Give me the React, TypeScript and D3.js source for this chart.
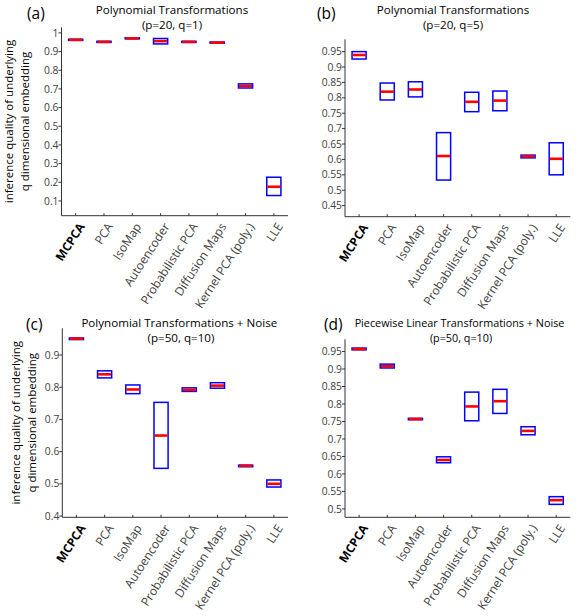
import React from 'react';
import * as d3 from 'd3';

// method names on the x axis
const categories = ['MCPCA', 'PCA', 'IsoMap', 'Autoencoder', 'Probabilistic PCA', 'Diffusion Maps', 'Kernel PCA (poly.)', 'LLE'];

// (a) Polynomial Transformations (p=20, q=1)
const aLow = [0.960, 0.949, 0.968, 0.941, 0.949, 0.945, 0.705, 0.129];
const aMed = [0.963, 0.952, 0.971, 0.956, 0.952, 0.948, 0.716, 0.176];
const aHigh = [0.966, 0.955, 0.974, 0.970, 0.955, 0.951, 0.727, 0.227];
const aTicks = [0.1, 0.2, 0.3, 0.4, 0.5, 0.6, 0.7, 0.8, 0.9, 1];

// (b) Polynomial Transformations (p=20, q=5)
const bLow = [0.926, 0.793, 0.803, 0.533, 0.755, 0.758, 0.605, 0.550];
const bMed = [0.939, 0.820, 0.827, 0.611, 0.787, 0.791, 0.610, 0.602];
const bHigh = [0.950, 0.848, 0.852, 0.687, 0.818, 0.822, 0.614, 0.654];
const bTicks = [0.45, 0.5, 0.55, 0.6, 0.65, 0.7, 0.75, 0.8, 0.85, 0.9, 0.95];

// (c) Polynomial Transformations + Noise (p=50, q=10)
const cLow = [0.948, 0.829, 0.780, 0.548, 0.787, 0.797, 0.553, 0.490];
const cMed = [0.951, 0.840, 0.793, 0.650, 0.792, 0.805, 0.556, 0.500];
const cHigh = [0.953, 0.851, 0.807, 0.753, 0.798, 0.814, 0.558, 0.512];
const cTicks = [0.4, 0.5, 0.6, 0.7, 0.8, 0.9];

// (d) Piecewise Linear Transformations + Noise (p=50, q=10)
const dLow = [0.955, 0.903, 0.755, 0.632, 0.752, 0.773, 0.712, 0.513];
const dMed = [0.957, 0.908, 0.757, 0.640, 0.793, 0.808, 0.723, 0.525];
const dHigh = [0.960, 0.914, 0.759, 0.649, 0.834, 0.842, 0.735, 0.535];
const dTicks = [0.5, 0.55, 0.6, 0.65, 0.7, 0.75, 0.8, 0.85, 0.9, 0.95];

const FONT = '"Open Sans", "Noto Sans", sans-serif';
const AXIS = '#333333';
const LABEL = '#404040';

const fmt = (v: number) => String(+v.toFixed(2));

type PanelProps = {
  left: number; top: number; right: number; bottom: number;
  domain: [number, number]; ticks: number[];
  lo: number[]; med: number[]; hi: number[];
  letter: string; letterX: number; letterY: number;
  title: string[]; titleX: number[]; titleY: number[]; titleSize: number;
  ylabelX?: number;
};

function Panel(p: PanelProps) {
  const x = d3.scaleLinear().domain([0.5, categories.length + 0.5]).range([p.left, p.right]);
  const y = d3.scaleLinear().domain(p.domain).range([p.bottom, p.top]);
  const step = x(2) - x(1);
  const half = step * 0.25;

  return (
    <g>
      {/* axes */}
      <line x1={p.left} x2={p.left} y1={p.top} y2={p.bottom} stroke={AXIS} strokeWidth={1} />
      <line x1={p.left} x2={p.right} y1={p.bottom} y2={p.bottom} stroke={AXIS} strokeWidth={1} />
      {p.ticks.map(t => (
        <g key={t}>
          <line x1={p.left - 3} x2={p.left} y1={y(t)} y2={y(t)} stroke={AXIS} />
          <text x={p.left - 3} y={y(t)} dy="0.35em" textAnchor="end" fontSize={10.3} fill={LABEL} fontFamily={FONT}>{fmt(t)}</text>
        </g>
      ))}
      {categories.map((c, i) => (
        <g key={c}>
          <line x1={x(i + 1)} x2={x(i + 1)} y1={p.bottom} y2={p.bottom - 2.5} stroke={AXIS} />
          <text
            transform={`translate(${x(i + 1) + 6},${p.bottom + 8.5}) rotate(-57)`}
            dy="0.35em" textAnchor="end" fontSize={12}
            fontWeight={i === 0 ? 'bold' : 'normal'}
            fill={i === 0 ? '#000' : LABEL} fontFamily={FONT}
          >{c}</text>
        </g>
      ))}
      {/* boxes */}
      {categories.map((c, i) => (
        <g key={'b' + c}>
          <rect x={x(i + 1) - half} width={half * 2} y={y(p.hi[i])} height={Math.max(0, y(p.lo[i]) - y(p.hi[i]))}
            fill="none" stroke="#0000ff" strokeWidth={1.5} />
          <line x1={x(i + 1) - half + 0.5} x2={x(i + 1) + half - 0.5} y1={y(p.med[i])} y2={y(p.med[i])}
            stroke="#ff0000" strokeWidth={2.6} />
        </g>
      ))}
      {/* titles */}
      <text x={p.letterX} y={p.letterY} fontSize={15.5} fill="#000" fontFamily={FONT}>{p.letter}</text>
      {p.title.map((t, k) => (
        <text key={t} x={p.titleX[k]} y={p.titleY[k]} textAnchor="middle" fontSize={p.titleSize} fill="#000" fontFamily={FONT}>{t}</text>
      ))}
      {p.ylabelX !== undefined && (
        <g transform={`translate(${p.ylabelX},${(p.top + p.bottom) / 2}) rotate(-90)`}>
          <text textAnchor="middle" fontSize={11.5} fill="#000" fontFamily={FONT}>inference quality of underlying</text>
          <text y={16} textAnchor="middle" fontSize={11.5} fill="#000" fontFamily={FONT}>q dimensional embedding</text>
        </g>
      )}
    </g>
  );
}

export default function App() {
  return (
    <svg width={582} height={616} style={{ position: 'absolute', left: 0, top: 0, background: '#fff' }}>
      <rect width={582} height={616} fill="#fff" />
      <Panel left={61.5} top={27.3} right={288} bottom={215.7} domain={[0.021, 1.03]} ticks={aTicks}
        lo={aLow} med={aMed} hi={aHigh}
        letter="(a)" letterX={27} letterY={19}
        title={['Polynomial Transformations', '(p=20, q=1)']} titleX={[172, 172]} titleY={[13.5, 29]} titleSize={11.6}
        ylabelX={13} />
      <Panel left={345} top={39.3} right={570.3} bottom={216.7} domain={[0.414, 0.99]} ticks={bTicks}
        lo={bLow} med={bMed} hi={bHigh}
        letter="(b)" letterX={317} letterY={19}
        title={['Polynomial Transformations', '(p=20, q=5)']} titleX={[453, 453]} titleY={[13.5, 29]} titleSize={11.6} />
      <Panel left={62.3} top={328.3} right={288} bottom={517.3} domain={[0.396, 0.983]} ticks={cTicks}
        lo={cLow} med={cMed} hi={cHigh}
        letter="(c)" letterX={26} letterY={330}
        title={['Polynomial Transformations + Noise', '(p=50, q=10)']} titleX={[179.3, 181]} titleY={[327.3, 342.3]} titleSize={11.6}
        ylabelX={19.5} />
      <Panel left={345} top={339.3} right={570.3} bottom={517.3} domain={[0.476, 0.985]} ticks={dTicks}
        lo={dLow} med={dMed} hi={dHigh}
        letter="(d)" letterX={324} letterY={330}
        title={['Piecewise Linear Transformations + Noise', '(p=50, q=10)']} titleX={[459.5, 461]} titleY={[326.7, 342.3]} titleSize={10.8} />
    </svg>
  );
}
